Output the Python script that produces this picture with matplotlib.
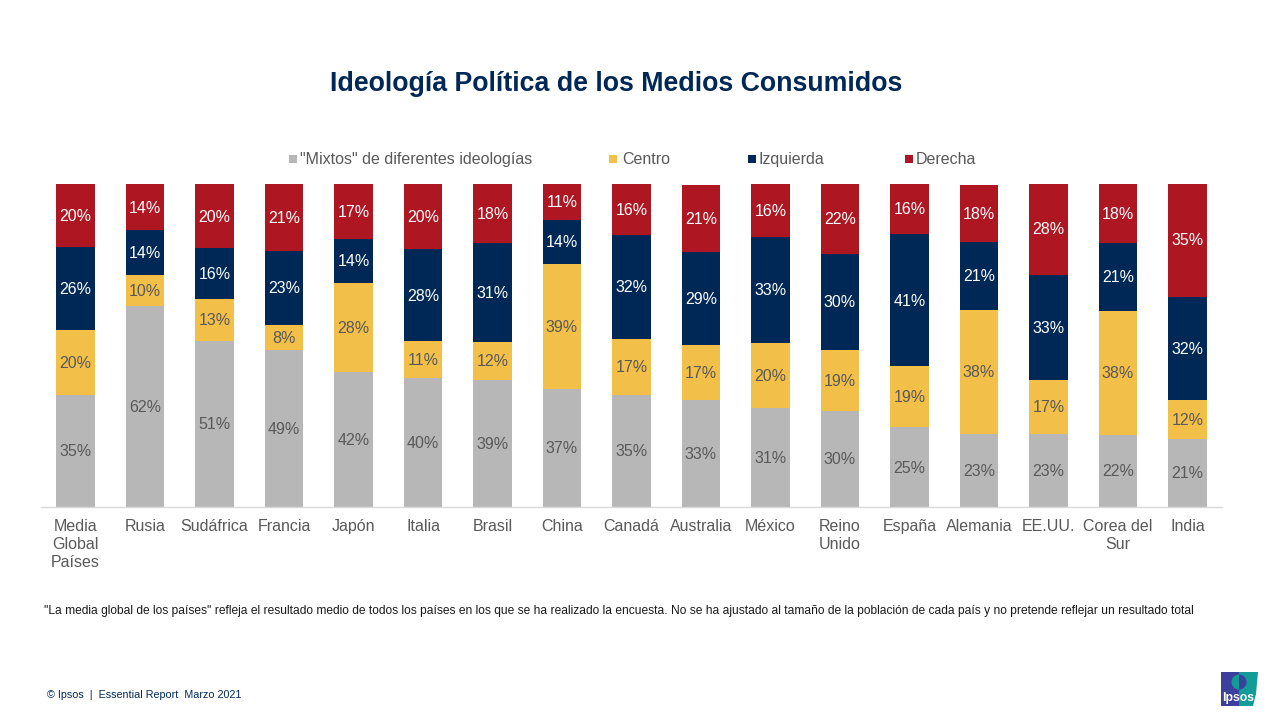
"""Ideologia politica de los medios consumidos: stacked bars by country."""
import matplotlib
matplotlib.use("Agg")
import matplotlib.pyplot as plt
import matplotlib.patches as mpatches
import numpy as np

plt.rcParams["font.family"] = ["Liberation Sans", "DejaVu Sans"]

countries = ["Media\nGlobal\nPaíses", "Rusia", "Sudáfrica", "Francia", "Japón", "Italia",
             "Brasil", "China", "Canadá", "Australia", "México", "Reino\nUnido",
             "España", "Alemania", "EE.UU.", "Corea del\nSur", "India"]

mixtos = [34.7, 62.2, 51.4, 48.6, 41.8, 39.9, 39.3, 36.6, 34.7, 33.1, 30.7, 29.7, 24.6, 22.6, 22.6, 22.3, 21.1]
centro = [20.1, 9.6, 13.0, 7.7, 27.6, 11.4, 11.8, 38.7, 17.3, 17.0, 20.1, 18.9, 18.9, 38.4, 16.7, 38.4, 12.1]
izquierda = [25.7, 13.9, 15.8, 22.9, 13.6, 28.4, 30.7, 13.6, 32.2, 28.8, 32.8, 29.7, 40.9, 21.1, 32.6, 21.1, 31.9]
derecha = [19.6, 14.2, 19.6, 20.7, 17.0, 20.1, 18.0, 11.1, 15.8, 20.7, 16.4, 21.7, 15.8, 17.6, 28.4, 18.3, 35.0]

series_names = ['"Mixtos" de diferentes ideologías', "Centro", "Izquierda", "Derecha"]
series_values = [mixtos, centro, izquierda, derecha]
series_colors = ["#b7b7b7", "#f2bf49", "#002856", "#ae1722"]
label_colors = ["#595959", "#595959", "#ffffff", "#ffffff"]

W, H = 1280, 720
GREY = "#595959"
NAVY = "#002856"


def px(x, y):
    # reference pixels (origin top-left) to figure fraction
    return x / W, 1 - y / H


fig = plt.figure(figsize=(W / 100, H / 100), dpi=100)
ax = fig.add_axes([40.75 / W, 1 - 506.8 / H, 1181.5 / W, 323.0 / H])

x = np.arange(len(countries))
bottom = np.zeros(len(countries))
for vals, color, lab_col in zip(series_values, series_colors, label_colors):
    vals = np.array(vals)
    ax.bar(x, vals, width=0.56, bottom=bottom, color=color, linewidth=0)
    for xi, b, v in zip(x, bottom, vals):
        # labels sit a touch under the segment centre
        ax.annotate(f"{v:.0f}%", (xi, b + v / 2), xytext=(0, -0.7), textcoords="offset points",
                    ha="center", va="center", fontsize=11.5, color=lab_col)
    bottom += vals

ax.set_xlim(-0.5, len(countries) - 0.5)
ax.set_ylim(0, 100)
ax.set_yticks([])
ax.set_xticks(x)
ax.set_xticklabels(countries, fontsize=11.5, color=GREY, linespacing=1.23)
ax.tick_params(axis="x", length=0, pad=8.8)
for side in ["top", "left", "right"]:
    ax.spines[side].set_visible(False)
ax.spines["bottom"].set_color("#d9d9d9")
ax.spines["bottom"].set_linewidth(1)

# title
tx, ty = px(616.5, 84)
fig.text(tx, ty, "Ideología Política de los Medios Consumidos", ha="center", va="center",
         fontsize=19.25, fontweight="bold", color=NAVY)

# legend, spaced by hand like the slide
legend_swatch_x = [289, 609, 748, 905]
legend_text_x = [300, 622, 759, 916]
for name, color, sx, lx in zip(series_names, series_colors, legend_swatch_x, legend_text_x):
    fig.add_artist(mpatches.Rectangle(px(sx, 162.5), 8 / W, 8 / H, transform=fig.transFigure,
                                      facecolor=color, edgecolor="none"))
    fx, fy = px(lx, 164)
    fig.text(fx, fy, name, ha="left", va="baseline", fontsize=11.5, color=GREY)

# footnote and footer
nx, ny = px(44, 611)
fig.text(nx, ny, '"La media global de los países" refleja el resultado medio de todos los países en los que '
         'se ha realizado la encuesta. No se ha ajustado al tamaño de la población de cada país y no pretende '
         'reflejar un resultado total', ha="left", va="center", fontsize=8.65, color="#1a1a1a")
cx, cy = px(47, 695)
fig.text(cx, cy, "© Ipsos  |  Essential Report  Marzo 2021", ha="left", va="center",
         fontsize=7.75, color=NAVY)

# Ipsos logo, drawn in its own small axes (units are pixels)
logo = fig.add_axes([1221 / W, 1 - 706 / H, 37 / W, 34 / H])
logo.set_xlim(0, 37)
logo.set_ylim(0, 34)
logo.set_axis_off()
logo.add_patch(mpatches.Rectangle((0, 0), 18, 34, facecolor="#3c3f9e", edgecolor="none"))
logo.add_patch(mpatches.Polygon([(18, 34), (37, 34), (35, 12), (32, 0), (18, 0)], closed=True,
                                facecolor="#129c97", edgecolor="none"))
logo.add_patch(mpatches.Wedge((18, 24), 7.5, 90, 270, facecolor="#129c97", edgecolor="none"))
logo.add_patch(mpatches.Wedge((18, 24), 7.5, -90, 90, facecolor="#3c3f9e", edgecolor="none"))
logo.text(17, 8.5, "Ipsos", ha="center", va="center", fontsize=8.8, fontweight="bold", color="#ffffff")

fig.savefig("out.png", dpi=100)
